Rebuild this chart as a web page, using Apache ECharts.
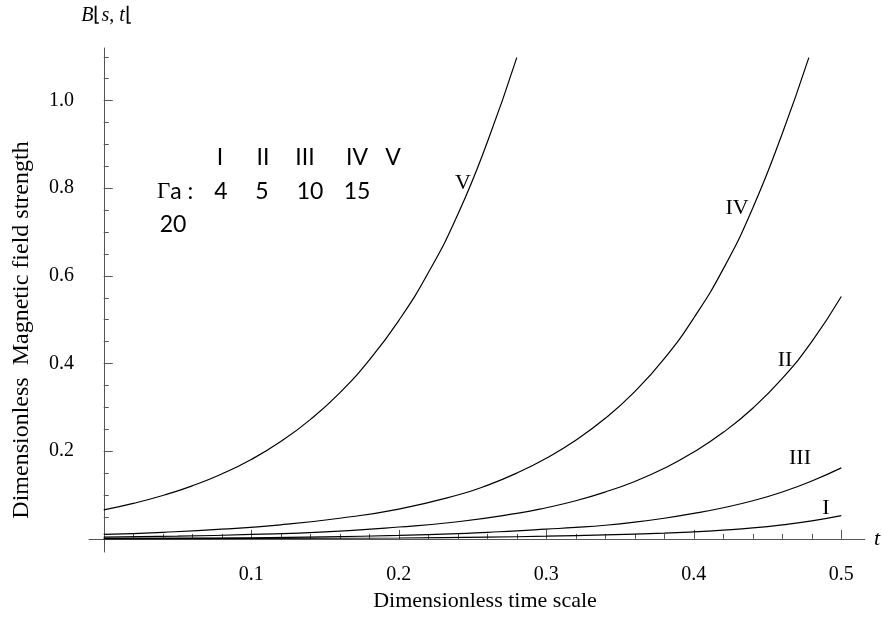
<!DOCTYPE html>
<html>
<head>
<meta charset="utf-8">
<script src="https://cdn.jsdelivr.net/npm/echarts@6/dist/echarts.min.js"></script>
<style>
  html, body { margin: 0; padding: 0; background: #ffffff; }
  #chart { width: 883px; height: 640px; }
</style>
</head>
<body>
<div id="chart"></div>
<script>
// curve I  (Γa = 4)
const tI = [0, 0.10, 0.20, 0.26, 0.30, 0.34, 0.38, 0.40, 0.42, 0.44, 0.46, 0.48, 0.50];
const bI = [0.000, 0.001, 0.002, 0.004, 0.006, 0.009, 0.013, 0.016, 0.020, 0.025, 0.032, 0.041, 0.053];
// curve II (Γa = 5)
const tII = [0, 0.05, 0.10, 0.15, 0.20, 0.24, 0.28, 0.30, 0.32, 0.34, 0.36, 0.38, 0.40, 0.42, 0.44, 0.46, 0.48, 0.50];
const bII = [0.004, 0.006, 0.010, 0.016, 0.027, 0.039, 0.058, 0.071, 0.087, 0.107, 0.131, 0.161, 0.198, 0.243, 0.298, 0.366, 0.450, 0.553];
// curve III (Γa = 10)
const tIII = [0, 0.05, 0.10, 0.15, 0.20, 0.24, 0.26, 0.28, 0.30, 0.32, 0.34, 0.36, 0.38, 0.40, 0.42, 0.44, 0.46, 0.48, 0.50];
const bIII = [0.001, 0.0015, 0.0025, 0.0045, 0.008, 0.012, 0.015, 0.018, 0.022, 0.026, 0.031, 0.038, 0.047, 0.058, 0.071, 0.087, 0.107, 0.132, 0.162];
// curve IV (Γa = 15)
const tIV = [0, 0.04, 0.08, 0.12, 0.16, 0.20, 0.24, 0.26, 0.28, 0.30, 0.32, 0.34, 0.36, 0.38, 0.40, 0.42, 0.44, 0.46, 0.478];
const bIV = [0.010, 0.015, 0.022, 0.032, 0.047, 0.068, 0.100, 0.122, 0.150, 0.184, 0.225, 0.275, 0.336, 0.411, 0.504, 0.616, 0.755, 0.925, 1.098];
// curve V (Γa = 20)
const tV = [0, 0.02, 0.04, 0.06, 0.08, 0.10, 0.12, 0.14, 0.16, 0.18, 0.20, 0.22, 0.24, 0.26, 0.28];
const bV = [0.066, 0.081, 0.099, 0.121, 0.148, 0.181, 0.222, 0.272, 0.333, 0.408, 0.498, 0.607, 0.740, 0.905, 1.098];

// ticks
const xMajor = [0.1, 0.2, 0.3, 0.4, 0.5];
const xMinor = [0.02, 0.04, 0.06, 0.08, 0.12, 0.14, 0.16, 0.18, 0.22, 0.24, 0.26, 0.28,
                0.32, 0.34, 0.36, 0.38, 0.42, 0.44, 0.46, 0.48];
const yMajor = [0.2, 0.4, 0.6, 0.8, 1.0];
const yMinor = [0.05, 0.10, 0.15, 0.25, 0.30, 0.35, 0.45, 0.50, 0.55, 0.65, 0.70, 0.75,
                0.85, 0.90, 0.95, 1.05, 1.10];

const serif = '"Liberation Serif", "Times New Roman", serif';
const sans = 'Lato, "Liberation Sans", sans-serif';
const axisColor = '#555555';

const pairs = (ts, bs) => ts.map((t, i) => [t, bs[i]]);

const curve = (name, ts, bs) => ({
    name: name,
    type: 'line',
    data: pairs(ts, bs),
    showSymbol: false,
    smooth: 0.5,
    silent: true,
    lineStyle: { color: '#000000', width: 1.2 },
    xAxisIndex: 0,
    yAxisIndex: 0
});

const txt = (x, y, s, size, family, extra) => ({
    type: 'text',
    x: x,
    y: y,
    silent: true,
    style: Object.assign({
        text: s,
        fill: '#000000',
        font: size + 'px ' + family,
        align: 'center',
        verticalAlign: 'middle'
    }, extra || {})
});

const chart = echarts.init(document.getElementById('chart'));

const options = {
    animation: false,
    grid: { left: 89, right: 16, top: 48, bottom: 88, containLabel: false },
    xAxis: [
        {
            type: 'value',
            min: -0.01,
            max: 0.516,
            position: 'bottom',
            splitLine: { show: false },
            axisLine: { onZero: true, lineStyle: { color: axisColor, width: 1 } },
            axisTick: { inside: true, length: 9, customValues: xMajor, lineStyle: { color: axisColor } },
            axisLabel: {
                customValues: xMajor,
                formatter: v => v.toFixed(1),
                margin: 13,
                color: '#000000',
                fontFamily: serif,
                fontSize: 20
            },
            name: 't',
            nameLocation: 'end',
            nameGap: 9,
            nameTextStyle: { fontFamily: serif, fontStyle: 'italic', fontSize: 22, color: '#000000' }
        },
        {
            type: 'value',
            min: -0.01,
            max: 0.516,
            position: 'bottom',
            splitLine: { show: false },
            axisLine: { show: false, onZero: true },
            axisTick: { inside: true, length: 5, customValues: xMinor, lineStyle: { color: axisColor } },
            axisLabel: { show: false }
        }
    ],
    yAxis: [
        {
            type: 'value',
            min: -0.03,
            max: 1.12,
            position: 'left',
            splitLine: { show: false },
            axisLine: { onZero: true, lineStyle: { color: axisColor, width: 1 } },
            axisTick: { inside: true, length: 9, customValues: yMajor, lineStyle: { color: axisColor } },
            axisLabel: {
                customValues: yMajor,
                formatter: v => v.toFixed(1),
                margin: 15,
                color: '#000000',
                fontFamily: serif,
                fontSize: 20
            }
        },
        {
            type: 'value',
            min: -0.03,
            max: 1.12,
            position: 'left',
            splitLine: { show: false },
            axisLine: { show: false, onZero: true },
            axisTick: { inside: true, length: 5, customValues: yMinor, lineStyle: { color: axisColor } },
            axisLabel: { show: false }
        }
    ],
    series: [
        curve('I', tI, bI),
        curve('II', tII, bII),
        curve('III', tIII, bIII),
        curve('IV', tIV, bIV),
        curve('V', tV, bV)
    ],
    graphic: [
        // B(s,t) at top of the vertical axis
        txt(107, 16, '{i|B}⌊{i|s}, {i|t}⌊', 20, serif, {
            rich: { i: { fontStyle: 'italic', fontFamily: serif, fontSize: 20 } }
        }),
        // axis titles
        Object.assign(txt(22, 330, 'Dimensionless  Magnetic field strength', 24, serif), { rotation: Math.PI / 2 }),
        txt(485, 601, 'Dimensionless time scale', 22, serif),
        // curve labels
        txt(463, 183, 'V', 22, serif),
        txt(737, 208, 'IV', 22, serif),
        txt(785, 360, 'II', 22, serif),
        txt(800, 458, 'III', 22, serif),
        txt(826, 508, 'I', 22, serif),
        // parameter table
        txt(220, 158, 'I', 23, sans),
        txt(263, 158, 'II', 23, sans),
        txt(305, 158, 'III', 23, sans),
        txt(357, 158, 'IV', 23, sans),
        txt(393, 158, 'V', 23, sans),
        txt(157, 192, '{g|Γ}a :', 23, sans, {
            align: 'left',
            rich: { g: { fontFamily: serif, fontSize: 23 } }
        }),
        txt(221, 192, '4', 23, sans),
        txt(262, 192, '5', 23, sans),
        txt(310, 192, '10', 23, sans),
        txt(357, 192, '15', 23, sans),
        txt(173, 225, '20', 23, sans)
    ]
};

chart.setOption(options);
</script>
</body>
</html>
